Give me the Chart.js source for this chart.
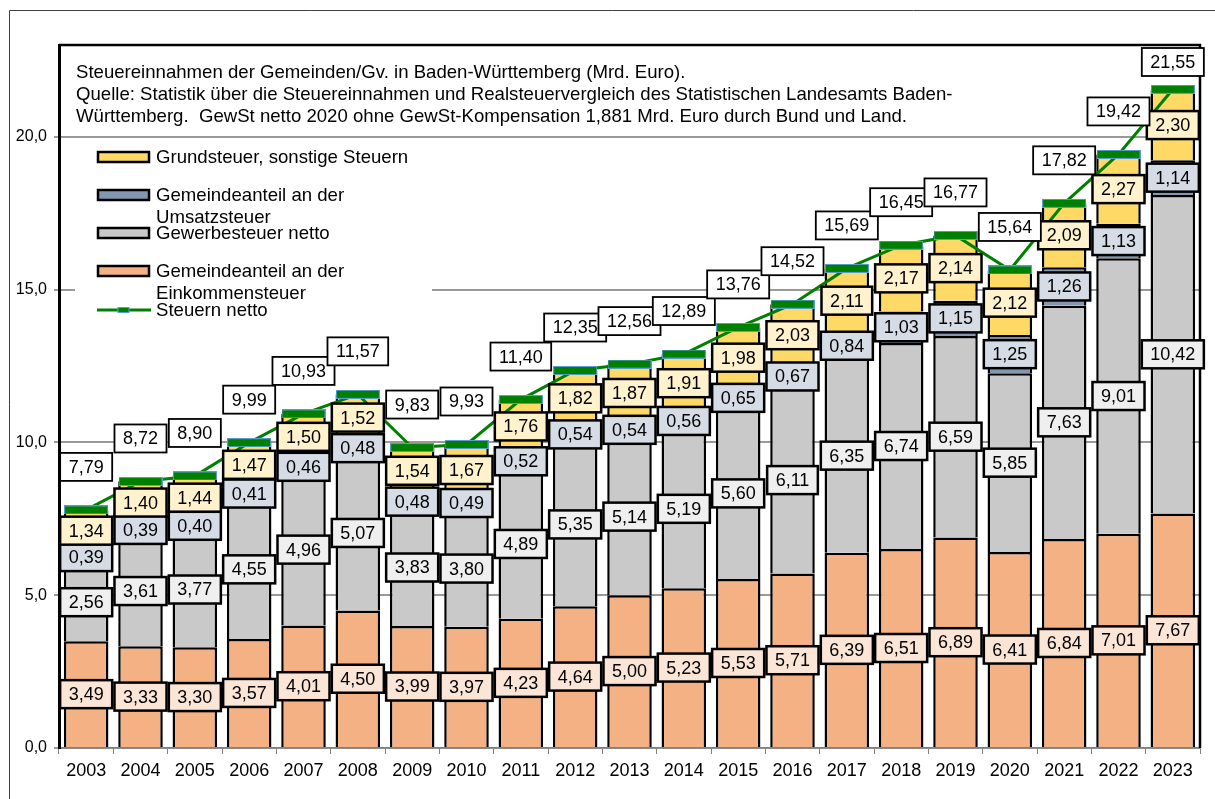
<!DOCTYPE html>
<html>
<head>
<meta charset="utf-8">
<script src="https://cdn.jsdelivr.net/npm/chart.js@4.4.0/dist/chart.umd.min.js"></script>
<style>
body { margin: 0; background: #fff; }
</style>
</head>
<body>
<canvas id="canvas" width="1215" height="799"></canvas>
<script>
var years = ['2003','2004','2005','2006','2007','2008','2009','2010','2011','2012','2013',
             '2014','2015','2016','2017','2018','2019','2020','2021','2022','2023'];
var einkommensteuer = [3.49,3.33,3.30,3.57,4.01,4.50,3.99,3.97,4.23,4.64,5.00,5.23,5.53,5.71,6.39,6.51,6.89,6.41,6.84,7.01,7.67];
var gewerbesteuer   = [2.56,3.61,3.77,4.55,4.96,5.07,3.83,3.80,4.89,5.35,5.14,5.19,5.60,6.11,6.35,6.74,6.59,5.85,7.63,9.01,10.42];
var umsatzsteuer    = [0.39,0.39,0.40,0.41,0.46,0.48,0.48,0.49,0.52,0.54,0.54,0.56,0.65,0.67,0.84,1.03,1.15,1.25,1.26,1.13,1.14];
var grundsteuer     = [1.34,1.40,1.44,1.47,1.50,1.52,1.54,1.67,1.76,1.82,1.87,1.91,1.98,2.03,2.11,2.17,2.14,2.12,2.09,2.27,2.30];
var steuernNetto    = [7.79,8.72,8.90,9.99,10.93,11.57,9.83,9.93,11.40,12.35,12.56,12.89,13.76,14.52,15.69,16.45,16.77,15.64,17.82,19.42,21.55];
var yTicks = [0, 5, 10, 15, 20];
var titleLines = [
  'Steuereinnahmen der Gemeinden/Gv. in Baden-Württemberg (Mrd. Euro).',
  'Quelle: Statistik über die Steuereinnahmen und Realsteuervergleich des Statistischen Landesamts Baden-',
  'Württemberg.  GewSt netto 2020 ohne GewSt-Kompensation 1,881 Mrd. Euro durch Bund und Land.'
];

var FONT = '"Liberation Sans", Arial, sans-serif';
Chart.defaults.font.family = FONT;
Chart.defaults.color = '#000';

function fmt(v) { return v.toFixed(2).replace('.', ','); }

// green dash marker with thin blue rim, like the Excel marker
function makeMarker(w, h) {
  var c = document.createElement('canvas');
  c.width = w; c.height = h;
  var g = c.getContext('2d');
  g.fillStyle = '#008000';
  g.fillRect(0, 0, w, h);
  g.strokeStyle = '#5b9bd5';
  g.lineWidth = 1;
  g.strokeRect(0.5, 0.5, w - 1, h - 1);
  return c;
}

function drawBox(ctx, text, x, y, fill, lw) {
  ctx.font = '18px ' + FONT;
  var w = ctx.measureText(text).width + 17;
  var h = 28;
  ctx.fillStyle = fill;
  ctx.fillRect(x - w / 2, y - h / 2, w, h);
  ctx.lineWidth = lw;
  ctx.strokeStyle = '#000';
  ctx.strokeRect(x - w / 2, y - h / 2, w, h);
  ctx.fillStyle = '#000';
  ctx.textAlign = 'center';
  ctx.textBaseline = 'middle';
  ctx.fillText(text, x, y + 1);
}

var barSeries = [
  {label: 'Gemeindeanteil an der Einkommensteuer', data: einkommensteuer, color: '#f4b183', box: '#fbe5d6'},
  {label: 'Gewerbesteuer netto', data: gewerbesteuer, color: '#c9c9c9', box: '#efefef'},
  {label: 'Gemeindeanteil an der Umsatzsteuer', data: umsatzsteuer, color: '#8497b0', box: '#d6dce5'},
  {label: 'Grundsteuer, sonstige Steuern', data: grundsteuer, color: '#ffd966', box: '#fff2cc'}
];

var datasets = barSeries.map(function(s) {
  return {
    type: 'bar',
    label: s.label,
    data: s.data,
    backgroundColor: s.color,
    borderColor: '#000',
    borderWidth: 2.5,
    borderSkipped: 'start',
    barPercentage: 0.82,
    categoryPercentage: 1,
    order: 1
  };
});
datasets.push({
  type: 'line',
  label: 'Steuern netto',
  data: steuernNetto,
  stack: 'total',
  borderColor: '#008000',
  borderWidth: 3,
  pointStyle: makeMarker(44, 9),
  tension: 0,
  order: 0
});

var decor = {
  id: 'decor',
  beforeDraw: function(chart) {
    var ctx = chart.ctx;
    ctx.save();
    ctx.strokeStyle = '#404040';
    ctx.lineWidth = 1;
    ctx.beginPath();
    ctx.moveTo(9.5, 799); ctx.lineTo(9.5, 10.5); ctx.lineTo(1215, 10.5);
    ctx.stroke();
    ctx.restore();
  },
  beforeDatasetsDraw: function(chart) {
    var ctx = chart.ctx, a = chart.chartArea;
    ctx.save();
    // title
    ctx.font = '18.6px ' + FONT;
    ctx.fillStyle = '#000';
    ctx.textAlign = 'left';
    ctx.textBaseline = 'middle';
    titleLines.forEach(function(t, i) { ctx.fillText(t, 76, 73 + i * 22); });
    // legend
    ctx.fillStyle = '#fff';
    ctx.fillRect(75, 143, 357, 180);
    var items = [
      {lines: ['Grundsteuer, sonstige Steuern'], y: 157, c: barSeries[3].color},
      {lines: ['Gemeindeanteil an der', 'Umsatzsteuer'], y: 195, c: barSeries[2].color},
      {lines: ['Gewerbesteuer netto'], y: 233, c: barSeries[1].color},
      {lines: ['Gemeindeanteil an der', 'Einkommensteuer'], y: 271, c: barSeries[0].color},
      {lines: ['Steuern netto'], y: 310, c: null}
    ];
    items.forEach(function(it) {
      if (it.c) {
        ctx.fillStyle = it.c;
        ctx.fillRect(98, it.y - 5, 51, 10);
        ctx.lineWidth = 2.5;
        ctx.strokeStyle = '#000';
        ctx.strokeRect(98, it.y - 5, 51, 10);
      } else {
        ctx.strokeStyle = '#008000';
        ctx.lineWidth = 3;
        ctx.beginPath(); ctx.moveTo(97, it.y); ctx.lineTo(151, it.y); ctx.stroke();
        ctx.fillStyle = '#008000';
        ctx.fillRect(118, it.y - 2.5, 11, 5);
        ctx.strokeStyle = '#5b9bd5';
        ctx.lineWidth = 1;
        ctx.strokeRect(118, it.y - 2.5, 11, 5);
      }
      ctx.fillStyle = '#000';
      ctx.font = '18.6px ' + FONT;
      it.lines.forEach(function(t, i) { ctx.fillText(t, 156, it.y + 1 + i * 21.5); });
    });
    // plot frame top and right
    ctx.strokeStyle = '#000';
    ctx.lineWidth = 2.5;
    ctx.beginPath();
    ctx.moveTo(a.left, a.top); ctx.lineTo(a.right, a.top); ctx.lineTo(a.right, a.bottom);
    ctx.stroke();
    ctx.restore();
  },
  afterDatasetsDraw: function(chart) {
    var ctx = chart.ctx, a = chart.chartArea;
    ctx.save();
    barSeries.forEach(function(s, di) {
      chart.getDatasetMeta(di).data.forEach(function(el, i) {
        drawBox(ctx, fmt(s.data[i]), el.x, (el.y + el.base) / 2, s.box, 2.5);
      });
    });
    chart.getDatasetMeta(barSeries.length).data.forEach(function(pt, i) {
      var y = Math.max(pt.y - 43, a.top + 17);
      drawBox(ctx, fmt(steuernNetto[i]), pt.x, y, '#fff', 1.8);
    });
    ctx.restore();
  }
};

new Chart(document.getElementById('canvas').getContext('2d'), {
  type: 'bar',
  data: { labels: years, datasets: datasets },
  options: {
    responsive: false,
    animation: false,
    layout: { padding: { top: 45, right: 15, left: 0, bottom: 0 } },
    plugins: { legend: { display: false }, tooltip: { enabled: false } },
    scales: {
      x: {
        stacked: true,
        grid: { drawOnChartArea: false, color: '#808080', tickLength: 6, offset: true },
        border: { color: '#808080', width: 1.5 },
        ticks: { font: { size: 18 }, padding: 6, maxRotation: 0 },
        afterFit: function(s) { s.height = 51; }
      },
      y: {
        stacked: true,
        min: 0,
        max: 23,
        grid: { color: '#999', lineWidth: 2, tickLength: 5 },
        border: { color: '#000', width: 3 },
        ticks: {
          font: { size: 16 },
          padding: 7,
          callback: function(v) { return v.toFixed(1).replace('.', ','); }
        },
        afterBuildTicks: function(s) {
          s.ticks = yTicks.map(function(v) { return {value: v}; });
        },
        afterFit: function(s) { s.width = 59; }
      }
    }
  },
  plugins: [decor]
});
</script>
</body>
</html>
